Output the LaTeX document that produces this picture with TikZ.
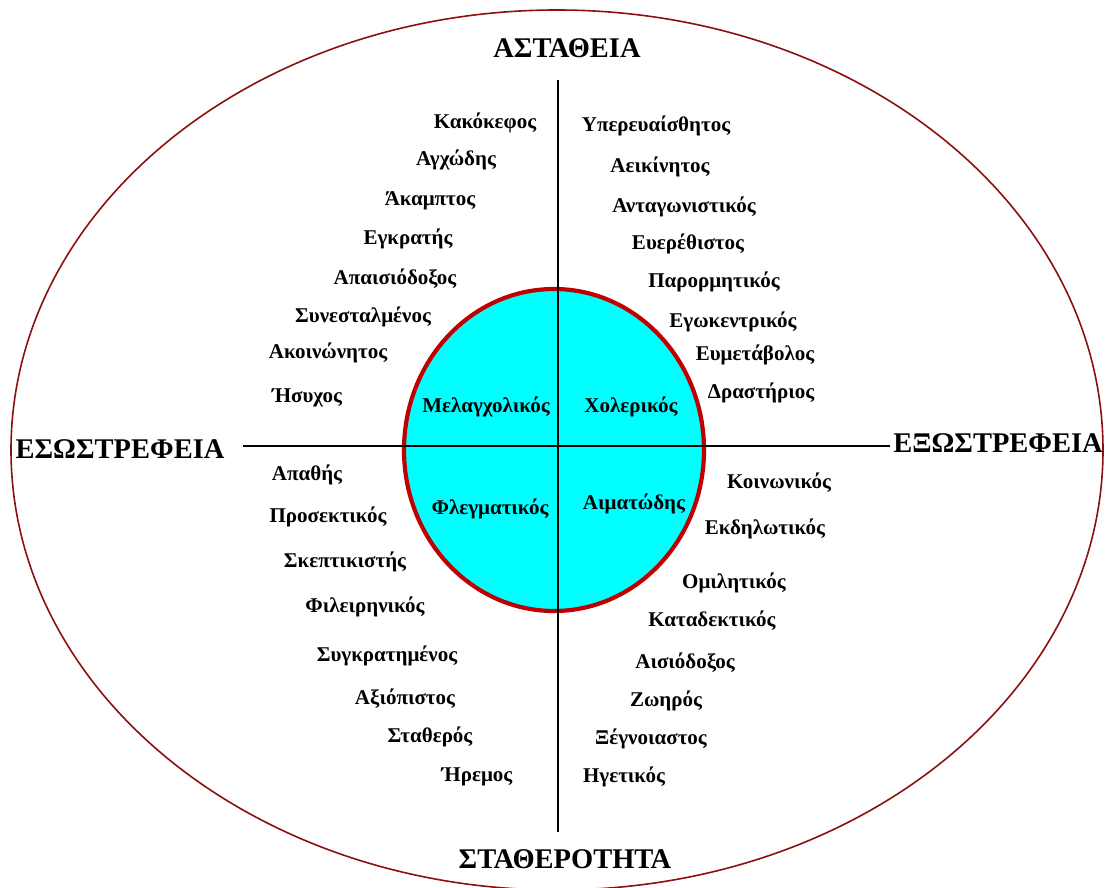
\documentclass[tikz,border=0pt]{standalone}
\usepackage{fontspec}
\setmainfont{Liberation Serif}
\usetikzlibrary{shapes.geometric}
\definecolor{outerred}{RGB}{140,16,16}
\definecolor{innerred}{RGB}{192,0,0}
\definecolor{corefill}{RGB}{0,255,255}
\tikzset{
  word/.style={font=\bfseries\fontsize{21}{25}\selectfont, inner sep=0pt, text height=0.66em, text depth=0.2em, anchor=center, yshift=-4pt},
  title/.style={font=\bfseries\fontsize{28.5}{32}\selectfont, inner sep=0pt, text height=0.66em, text depth=0em, anchor=center, yshift=-6pt},
  axis/.style={line width=1.3pt, black},
}
\begin{document}
\begin{tikzpicture}[x=1pt,y=-1pt]
\useasboundingbox (0,0) rectangle (1106,888);
\clip (0,0) rectangle (1106,888);
% outer ellipse
\node[ellipse, draw=outerred, line width=1.6pt, minimum width=1092pt, minimum height=880pt, inner sep=0pt] (outer) at (557,450) {};
% core circle
\node[ellipse, fill=corefill, minimum width=300pt, minimum height=322pt, inner sep=0pt] (corefill) at (554,450) {};
\node[ellipse, draw=innerred, line width=4.2pt, minimum width=300pt, minimum height=322pt, inner sep=0pt] (core) at (554,450) {};
% axes
\coordinate (top) at (558,80);
\coordinate (bot) at (558,832);
\coordinate (lft) at (243,446);
\coordinate (rgt) at (890,446);
\draw[axis] (top) -- (bot);
\draw[axis] (lft) -- (rgt);
% titles
\node[title] (tN) at (567,48.5) {ΑΣΤΑΘΕΙΑ};
\node[title] (tS) at (565,859) {ΣΤΑΘΕΡΟΤΗΤΑ};
\node[title] (tW) at (120,449) {ΕΣΩΣΤΡΕΦΕΙΑ};
\node[title] (tE) at (998,443) {ΕΞΩΣΤΡΕΦΕΙΑ};
% temperaments
\node[word] (q1) at (486,406) {Μελαγχολικός};
\node[word] (q2) at (631,406) {Χολερικός};
\node[word] (q3) at (490,508) {Φλεγματικός};
\node[word] (q4) at (634,503) {Αιματώδης};
% upper left
\node[word] (ul1) at (485,122) {Κακόκεφος};
\node[word] (ul2) at (456,159) {Αγχώδης};
\node[word] (ul3) at (430,199) {Άκαμπτος};
\node[word] (ul4) at (408,238) {Εγκρατής};
\node[word] (ul5) at (395,278) {Απαισιόδοξος};
\node[word] (ul6) at (363,316) {Συνεσταλμένος};
\node[word] (ul7) at (328,352) {Ακοινώνητος};
\node[word] (ul8) at (307,396) {Ήσυχος};
% upper right
\node[word] (ur1) at (656,125) {Υπερευαίσθητος};
\node[word] (ur2) at (660,166) {Αεικίνητος};
\node[word] (ur3) at (684,206) {Ανταγωνιστικός};
\node[word] (ur4) at (688,243) {Ευερέθιστος};
\node[word] (ur5) at (714,281) {Παρορμητικός};
\node[word] (ur6) at (733,321) {Εγωκεντρικός};
\node[word] (ur7) at (755,354) {Ευμετάβολος};
\node[word] (ur8) at (761,392) {Δραστήριος};
% lower left
\node[word] (ll1) at (307,474) {Απαθής};
\node[word] (ll2) at (328,516) {Προσεκτικός};
\node[word] (ll3) at (345,561) {Σκεπτικιστής};
\node[word] (ll4) at (365,606) {Φιλειρηνικός};
\node[word] (ll5) at (387,655) {Συγκρατημένος};
\node[word] (ll6) at (405,698) {Αξιόπιστος};
\node[word] (ll7) at (430,736) {Σταθερός};
\node[word] (ll8) at (477,775) {Ήρεμος};
% lower right
\node[word] (lr1) at (779,482) {Κοινωνικός};
\node[word] (lr2) at (765,528) {Εκδηλωτικός};
\node[word] (lr3) at (734,582) {Ομιλητικός};
\node[word] (lr4) at (712,620) {Καταδεκτικός};
\node[word] (lr5) at (685,662) {Αισιόδοξος};
\node[word] (lr6) at (666,700) {Ζωηρός};
\node[word] (lr7) at (651,738) {Ξέγνοιαστος};
\node[word] (lr8) at (624,776) {Ηγετικός};
\end{tikzpicture}
\end{document}
